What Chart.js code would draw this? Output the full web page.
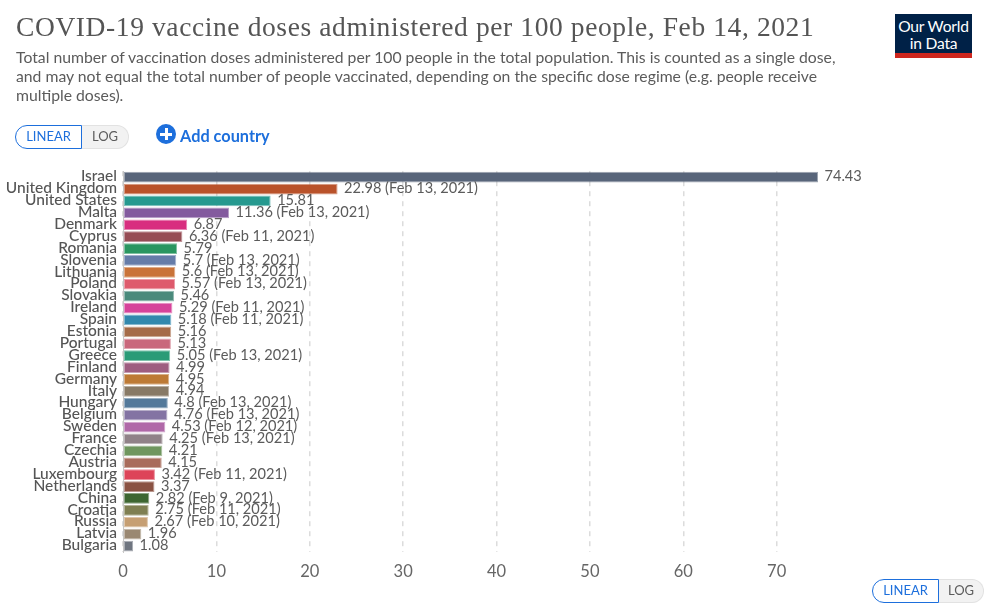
<!DOCTYPE html>
<html><head><meta charset="utf-8">
<script src="https://cdn.jsdelivr.net/npm/chart.js@4"></script>
<style>
html,body{margin:0;padding:0;background:#fff;width:984px;height:608px;overflow:hidden}
#c{position:absolute;left:0;top:0}
.t{position:absolute;white-space:nowrap}
#title{left:16px;top:11px;font:27.5px "Liberation Serif",serif;color:#555;letter-spacing:.6px}
.sub{left:16px;font:15.75px Lato,sans-serif;color:#5b5b5b}
.toggle{position:absolute;height:24px;font:13px Lato,sans-serif;box-sizing:border-box;line-height:21px;text-align:center}
.lin{border:1px solid #1d6fdc;border-radius:12px 0 0 12px;color:#1d6fdc;background:#fff}
.log{border:1px solid #e2e2e2;border-left:none;border-radius:0 12px 12px 0;color:#5b5b5b;background:#f2f2f2}
#logo{position:absolute;left:895px;top:14px;width:77px;height:44px;background:#002147;border-bottom:5px solid #ce261e;box-sizing:border-box;color:#fff;font:15.6px/17px Lato,sans-serif;text-align:center;padding-top:4px;letter-spacing:-.2px}
#plus{position:absolute;left:156px;top:124px;width:20px;height:20px;border-radius:50%;background:#1d6fdc}
#plus:before{content:"";position:absolute;left:4px;top:8.5px;width:12px;height:3px;background:#fff}
#plus:after{content:"";position:absolute;left:8.5px;top:4px;width:3px;height:12px;background:#fff}
#add{left:180px;top:126px;font:bold 16.3px Lato,sans-serif;color:#1d6fdc}
</style></head><body>
<canvas id="c" width="984" height="608"></canvas>
<div class="t" id="title">COVID-19 vaccine doses administered per 100 people, Feb 14, 2021</div>
<div class="t sub" style="top:47px">Total number of vaccination doses administered per 100 people in the total population. This is counted as a single dose,</div>
<div class="t sub" style="top:66px">and may not equal the total number of people vaccinated, depending on the specific dose regime (e.g. people receive</div>
<div class="t sub" style="top:85px">multiple doses).</div>
<div class="toggle lin" style="left:15px;top:125px;width:67px">LINEAR</div>
<div class="toggle log" style="left:82px;top:125px;width:47px">LOG</div>
<div id="plus"></div><div class="t" id="add">Add country</div>
<div id="logo">Our World<br>in Data</div>
<div class="toggle lin" style="left:872px;top:579px;width:67px">LINEAR</div>
<div class="toggle log" style="left:939px;top:579px;width:45px">LOG</div>
<script>
const countries=["Israel","United Kingdom","United States","Malta","Denmark","Cyprus","Romania","Slovenia","Lithuania","Poland","Slovakia","Ireland","Spain","Estonia","Portugal","Greece","Finland","Germany","Italy","Hungary","Belgium","Sweden","France","Czechia","Austria","Luxembourg","Netherlands","China","Croatia","Russia","Latvia","Bulgaria"];
const doses=[74.43,22.98,15.81,11.36,6.87,6.36,5.79,5.7,5.6,5.57,5.46,5.29,5.18,5.16,5.13,5.05,4.99,4.95,4.94,4.8,4.76,4.53,4.25,4.21,4.15,3.42,3.37,2.82,2.75,2.67,1.96,1.08];
const dates=["","Feb 13, 2021","","Feb 13, 2021","","Feb 11, 2021","","Feb 13, 2021","Feb 13, 2021","Feb 13, 2021","","Feb 11, 2021","Feb 11, 2021","","","Feb 13, 2021","","","","Feb 13, 2021","Feb 13, 2021","Feb 12, 2021","Feb 13, 2021","","","Feb 11, 2021","","Feb 9, 2021","Feb 11, 2021","Feb 10, 2021","",""];
const colors=["#58657a","#b9522a","#26998f","#835a9e","#d82e7f","#964d55","#2a9660","#667ca8","#c97339","#de5a6c","#4a8a7c","#d6439a","#3288ad","#a56b48","#c9687c","#2a9b77","#9e5d80","#bd7a35","#887a66","#53799a","#8373a3","#b068a8","#908288","#6f965e","#a96c5c","#dd4459","#8a5243","#3d6631","#7f7f52","#c69f73","#9a8872","#6f7580"];
const xTicks=[0,10,20,30,40,50,60,70];
const valueLabels={id:'valueLabels',afterDatasetsDraw(ch){
  const {ctx,scales:{x,y}}=ch;ctx.save();
  ctx.font='14.6px Lato,sans-serif';ctx.fillStyle='#5b5b5b';ctx.textBaseline='middle';
  doses.forEach((v,i)=>{
    const s=v+(dates[i]?' ('+dates[i]+')':'');
    ctx.fillText(s,x.getPixelForValue(v)+6.5,y.getPixelForValue(i)-0.6);
  });ctx.restore();
}};
new Chart(document.getElementById('c'),{
  type:'bar',
  data:{labels:countries,datasets:[{data:doses,backgroundColor:colors,borderColor:colors.map(c=>c+'99'),borderWidth:1,borderSkipped:false,barPercentage:0.9,categoryPercentage:1}]},
  plugins:[valueLabels],
  options:{indexAxis:'y',responsive:false,animation:false,
    layout:{padding:{top:171.2,right:114,left:0,bottom:0}},
    plugins:{legend:{display:false},tooltip:{enabled:false}},
    scales:{
      x:{min:0,max:80,afterFit(s){s.height=56},afterBuildTicks(s){s.ticks=xTicks.map(value=>({value}))},
        border:{display:false,dash:[5,5]},
        grid:{drawTicks:false,color:'#dcdcdc',tickLength:0,lineWidth:1.5},
        ticks:{color:'#666',font:{family:'Lato',size:16.5},padding:10,maxRotation:0}},
      y:{afterFit(s){s.width=123},
        afterUpdate(s){const g=s._computeLabelItems.bind(s);s._computeLabelItems=a=>g(a).map(it=>{it.options.translation[1]-=0.4;return it;});},
        border:{display:true,color:'#c8c8c8'},grid:{display:false,drawTicks:false,tickLength:0},
        ticks:{autoSkip:false,color:'#555',font:{family:'Lato',size:15.5,weight:'500'},padding:6}}
    }
  }
});
</script>
</body></html>
